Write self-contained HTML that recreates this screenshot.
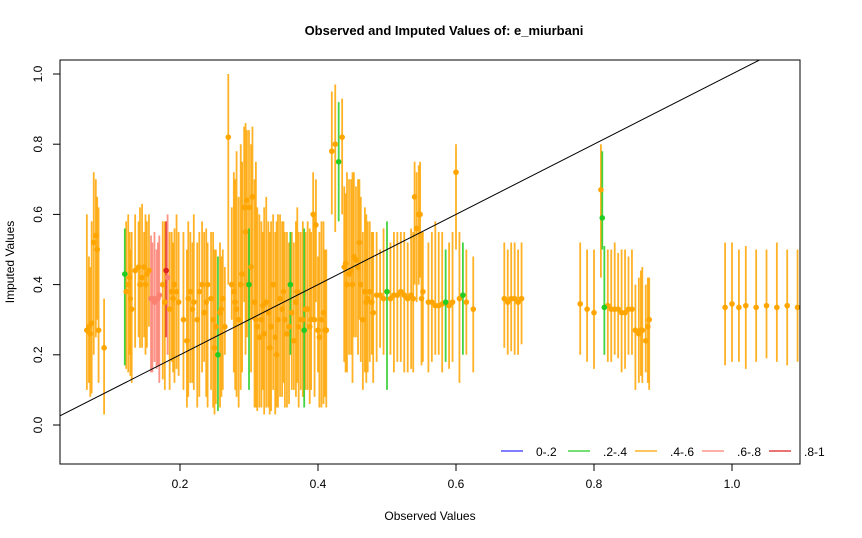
<!DOCTYPE html>
<html><head><meta charset="utf-8"><style>
body{margin:0;background:#fff;}
svg{display:block;font-family:"Liberation Sans",Arial,sans-serif;}
</style></head><body>
<svg id="chart" width="862" height="538">
<text x="444" y="35" text-anchor="middle" font-size="13" font-weight="bold">Observed and Imputed Values of: e_miurbani</text>
<text x="430" y="520" text-anchor="middle" font-size="12">Observed Values</text>
<text transform="translate(14,262) rotate(-90)" text-anchor="middle" font-size="12">Imputed Values</text>
<defs><clipPath id="pc"><rect x="60" y="60" width="740" height="404"/></clipPath></defs>
<g id="marks" clip-path="url(#pc)"></g>
<g id="axes"></g>
<rect x="60" y="60" width="740" height="404" fill="none" stroke="#000"/>
<g id="legend"></g>
</svg>
<script>
const xsA=[.065,.068,.07,.075,.078,.08,.09,.12,.125,.128,.13,.14,.145,.15,.155,.16,.163,.166,.17,.175,.18,.182,.185,.19,.195,.21,.215,.22,.225,.235,.24,.245,.25,.255,.26,.265,.27,.275,.28,.285,.29,.293,.297,.30,.305,.31,.315,.32,.325,.33,.335,.34,.345,.35,.355,.36,.365,.37,.375,.38,.385,.39,.393,.397,.40,.405,.41,.42,.425,.43,.435,.44,.445,.45,.455,.46,.465,.47,.475,.48,.49,.50,.505,.51,.52,.53,.535,.54,.543,.546,.55,.56,.57,.58,.585,.59,.60,.605,.61,.625,.67,.675,.68,.69,.695,.78,.79,.80,.81,.812,.815,.82,.83,.84,.85,.86,.865,.87,.875,.88,.99,1.0,1.01,1.02,1.035,1.05,1.065,1.08,1.095,1.11];
const meansA=[.27,.28,.26,.52,.54,.50,.22,.43,.40,.36,.33,.45,.42,.40,.44,.36,.35,.36,.37,.40,.44,.42,.33,.36,.38,.24,.38,.35,.30,.32,.40,.36,.22,.20,.33,.28,.82,.40,.35,.30,.43,.62,.64,.40,.65,.30,.25,.34,.35,.22,.40,.20,.36,.38,.26,.40,.24,.38,.30,.27,.33,.30,.60,.57,.27,.30,.27,.78,.80,.75,.82,.46,.43,.40,.47,.52,.30,.35,.38,.32,.37,.38,.36,.37,.38,.36,.37,.65,.56,.60,.36,.35,.34,.345,.35,.34,.72,.36,.37,.33,.36,.35,.36,.35,.36,.345,.33,.32,.67,.59,.335,.34,.33,.32,.33,.27,.26,.27,.24,.30,.335,.345,.335,.34,.335,.34,.335,.34,.335,.33];
const lowsA=[.10,.12,.08,.20,.25,.30,.03,.17,.15,.14,.12,.25,.22,.20,.28,.15,.18,.16,.12,.13,.25,.20,.10,.15,.16,.05,.12,.10,.05,.18,.05,.10,.03,.04,.08,.20,.40,.30,.10,.05,.15,.35,.25,.10,.30,.05,.05,.10,.05,.03,.10,.05,.08,.12,.05,.20,.10,.12,.10,.05,.10,.10,.30,.35,.15,.05,.08,.60,.55,.58,.60,.15,.20,.12,.25,.30,.10,.12,.18,.12,.22,.10,.20,.15,.18,.15,.16,.40,.35,.40,.17,.15,.20,.15,.18,.16,.50,.12,.20,.15,.22,.20,.21,.20,.23,.20,.18,.16,.42,.50,.20,.18,.20,.15,.20,.10,.12,.12,.15,.10,.17,.18,.18,.16,.18,.19,.18,.17,.18,.16];
const highsA=[.60,.48,.45,.72,.70,.65,.36,.56,.60,.50,.55,.58,.63,.60,.60,.52,.55,.50,.54,.58,.58,.60,.55,.52,.60,.50,.55,.60,.52,.55,.52,.55,.50,.48,.48,.45,1.0,.62,.70,.65,.75,.85,.84,.56,.85,.75,.60,.55,.65,.55,.60,.58,.60,.58,.55,.55,.52,.62,.55,.56,.58,.55,.72,.70,.48,.58,.50,.95,.97,.92,.93,.66,.70,.72,.68,.70,.55,.60,.58,.55,.50,.58,.52,.55,.55,.52,.56,.75,.72,.74,.55,.52,.58,.55,.50,.52,.80,.55,.52,.48,.52,.50,.52,.50,.52,.52,.50,.50,.80,.78,.51,.50,.52,.50,.48,.40,.42,.45,.40,.42,.52,.52,.50,.51,.50,.50,.52,.50,.50,.49];
const catsA=[2,2,2,2,2,2,2,1,2,2,2,2,2,2,2,3,3,3,3,2,4,3,2,2,2,2,2,2,2,2,2,2,2,1,2,2,2,2,2,2,2,2,2,1,2,2,2,2,2,2,2,2,2,2,2,1,2,2,2,1,2,2,2,2,2,2,2,2,2,1,2,2,2,2,2,2,2,2,2,2,2,1,2,2,2,2,2,2,2,2,2,2,2,2,1,2,2,2,1,2,2,2,2,2,2,2,2,2,2,1,1,2,2,2,2,2,2,2,2,2,2,2,2,2,2,2,2,2,2,2];
const xsB=[.072,.082,.122,.127,.135,.142,.148,.152,.158,.168,.178,.188,.192,.198,.205,.212,.218,.228,.232,.238,.248,.252,.258,.262,.278,.282,.288,.295,.30,.303,.308,.312,.318,.322,.328,.332,.338,.342,.348,.352,.358,.362,.368,.372,.378,.382,.388,.395,.402,.408,.412,.438,.442,.448,.452,.458,.462,.468,.472,.478,.485,.495,.515,.525,.538,.548,.552,.565,.575,.595,.615,.685,.825,.835,.845,.855,.868,.878];
const meansB=[.29,.27,.38,.42,.44,.40,.45,.43,.36,.36,.35,.38,.40,.35,.30,.36,.33,.38,.40,.35,.30,.28,.32,.36,.38,.33,.40,.55,.62,.45,.35,.28,.30,.26,.32,.28,.25,.30,.33,.30,.28,.32,.35,.28,.30,.33,.28,.30,.25,.32,.27,.45,.40,.44,.48,.45,.40,.38,.36,.35,.37,.36,.37,.37,.36,.60,.38,.35,.34,.35,.35,.36,.33,.33,.32,.33,.27,.28];
const lowsB=[.09,.12,.16,.20,.22,.22,.25,.22,.15,.17,.10,.18,.12,.14,.10,.08,.12,.08,.15,.08,.05,.06,.05,.10,.15,.08,.10,.20,.30,.15,.05,.04,.05,.03,.05,.04,.03,.05,.08,.05,.06,.10,.08,.05,.08,.10,.06,.08,.05,.06,.05,.18,.15,.20,.25,.20,.18,.15,.15,.20,.18,.20,.18,.15,.15,.42,.18,.18,.20,.18,.20,.20,.18,.19,.16,.20,.14,.12];
const highsB=[.58,.62,.58,.55,.60,.62,.55,.58,.54,.52,.58,.55,.56,.55,.55,.58,.52,.55,.58,.56,.55,.50,.52,.50,.72,.78,.80,.86,.84,.80,.70,.62,.58,.62,.58,.58,.55,.60,.58,.55,.52,.55,.58,.55,.58,.55,.56,.60,.55,.58,.50,.68,.72,.70,.72,.70,.65,.62,.58,.55,.55,.56,.55,.55,.55,.75,.55,.55,.55,.55,.50,.52,.50,.49,.50,.50,.44,.42];
const catsB=[2,2,2,2,2,2,2,2,3,3,2,2,2,2,2,2,2,2,2,2,2,2,2,2,2,2,2,2,2,2,2,2,2,2,2,2,2,2,2,2,2,2,2,2,2,2,2,2,2,2,2,2,2,2,2,2,2,2,2,2,2,2,2,2,2,2,2,2,2,2,2,2,2,2,2,2,2,2];
const xs=xsA.concat(xsB), means=meansA.concat(meansB), lows=lowsA.concat(lowsB), highs=highsA.concat(highsB), cats=catsA.concat(catsB);
const legendLabels=["0-.2",".2-.4",".4-.6",".6-.8",".8-1"];
const colors=["#3333ff","#22cc22","#ffa500","#fa8072","#dd2222"];
const xTicks=[0.2,0.4,0.6,0.8,1.0];
const yTicks=[0.0,0.2,0.4,0.6,0.8,1.0];
const NS="http://www.w3.org/2000/svg";
const sx=v=>42+v*690, sy=v=>425-v*351;
const marks=document.getElementById('marks'), axes=document.getElementById('axes'), leg=document.getElementById('legend');
function mk(tag,attrs,parent){const e=document.createElementNS(NS,tag);for(const k in attrs)e.setAttribute(k,attrs[k]);parent.appendChild(e);return e;}
const order=xs.map((_,i)=>i).sort((a,b)=>(cats[a]===2?0:1)-(cats[b]===2?0:1));
order.forEach(i=>{
  const l=mk('line',{x1:sx(xs[i]),x2:sx(xs[i]),y1:sy(lows[i]),y2:sy(highs[i]),stroke:colors[cats[i]],'stroke-width':1.8,'stroke-opacity':0.85},marks);
  
  
});
order.forEach(i=>{
  const c=mk('circle',{cx:sx(xs[i]),cy:sy(means[i]),r:2.8,fill:colors[cats[i]]},marks);
  
  
});
const d=mk('line',{x1:sx(0),y1:sy(0),x2:sx(1.2),y2:sy(1.2),stroke:'#000','stroke-width':1},marks);


xTicks.forEach(v=>{
  mk('line',{x1:sx(v),x2:sx(v),y1:464,y2:471,stroke:'#000'},axes);
  const t=mk('text',{x:sx(v),y:488,'text-anchor':'middle','font-size':12},axes);t.textContent=v.toFixed(1);
  
  
});
yTicks.forEach(v=>{
  mk('line',{x1:53,x2:60,y1:sy(v),y2:sy(v),stroke:'#000'},axes);
  const t=mk('text',{transform:`translate(42,${sy(v)}) rotate(-90)`,'text-anchor':'middle','font-size':12},axes);t.textContent=v.toFixed(1);
  
  
});
legendLabels.forEach((lab,i)=>{
  const x0=501+i*67;
  const l=mk('line',{x1:x0,x2:x0+22,y1:451,y2:451,stroke:colors[i],'stroke-width':1.3},leg);
  
  
  const t=mk('text',{x:x0+35,y:456,'font-size':12},leg);t.textContent=lab;
  
  
});
</script>
</body></html>
